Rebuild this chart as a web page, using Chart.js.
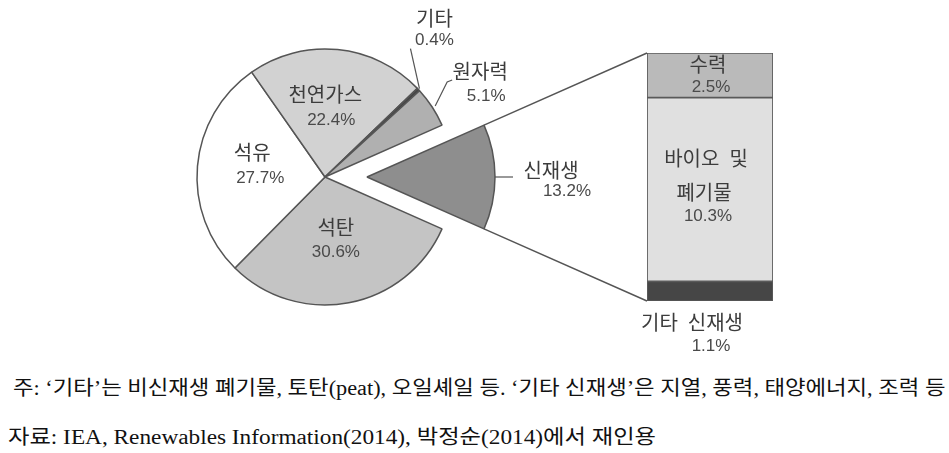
<!DOCTYPE html>
<html lang="ko">
<head>
<meta charset="UTF-8">
<title>1차 에너지 공급 구성</title>
<script src="https://cdn.jsdelivr.net/npm/chart.js"></script>
<style>
    body { margin: 0; background: #fff; }
    #wrap { position: relative; width: 949px; height: 453px; overflow: hidden; }
    #pieChart { position: absolute; left: 0; top: 0; }
    #barChart { position: absolute; left: 600px; top: 40px; }
    .note {
        position: absolute;
        white-space: nowrap;
        font-family: "Liberation Serif", "Noto Sans CJK KR", serif;
        font-size: 20px;
        line-height: 22px;
        color: #111;
        transform-origin: 0 50%;
    }
</style>
</head>
<body>
<div id="wrap">
    <canvas id="pieChart" width="949" height="370"></canvas>
    <canvas id="barChart" width="220" height="330"></canvas>
    <div class="note" id="note1" style="left:13px; top:377px;">주: ‘기타’는 비신재생 폐기물, 토탄(peat), 오일셰일 등. ‘기타 신재생’은 지열, 풍력, 태양에너지, 조력 등</div>
    <div class="note" id="note2" style="left:8px; top:426px;">자료: IEA, Renewables Information(2014), 박정순(2014)에서 재인용</div>
</div>

<script>
// Data
const pieLabels = ['신재생', '석탄', '석유', '천연가스', '기타', '원자력'];
const pieValues = [13.2, 30.6, 27.7, 22.4, 0.4, 5.1];
const renewLabels = ['기타 신재생', '바이오 및 폐기물', '수력'];
const renewValues = [1.1, 10.3, 2.5];

// Styles
const pieColors = ['#8e8e8e', '#c4c4c4', '#ffffff', '#d2d2d2', '#454545', '#b0b0b0'];
const renewColors = ['#464646', '#e0e0e0', '#bababa'];
const EXPLODE = 42;
const LINE = '#555';
const TEXT = '#3c3c3c';
const NUM_TEXT = '#4a4a4a';
const NAME_FONT = '20px "Noto Sans CJK KR", sans-serif';
const NUM_FONT = '17px "Liberation Sans", "Noto Sans CJK KR", sans-serif';
const BAR_LEFT = 600, BAR_TOP = 40;

// label line offsets: [name, value] relative to anchor
const pieLabelLayout = [
    { out: true, lines: [[56, -7], [72, 14]], leader: [[0, 0], [18, 0]] },
    { lines: [[-1, -12], [-1, 12]] },
    { lines: [[-9, -19], [-1, 7]] },
    { lines: [[-6, -19], [0, 7]] },
    { out: true, lines: [[16, -71], [16, -49]], leader: [[1, -1], [-8, -41]] },
    { out: true, lines: [[48, -36], [54, -11]], leader: [[3, -1], [15, -25], [20, -27]] }
];
const renewLabelLayout = [
    { below: true, lines: [[-18, 21], [1, 45]], text: ['기타\u2002신재생'] },
    { lines: [[-4, -31], [-6, 3], [-2, 27]], text: ['바이오\u2002및', '폐기물'] },
    { lines: [[-2, -11], [1, 12]], text: ['수력'] }
];

const pieTotal = pieValues.reduce((a, b) => a + b, 0);
const renewTotal = renewValues.reduce((a, b) => a + b, 0);
const renewSweep = pieValues[0] / pieTotal * 360;

function drawText(ctx, text, x, y, isNum) {
    ctx.font = isNum ? NUM_FONT : NAME_FONT;
    ctx.fillStyle = isNum ? NUM_TEXT : TEXT;
    ctx.textAlign = 'center';
    ctx.textBaseline = 'middle';
    ctx.fillText(text, x, y);
}

// Stacked bar for 신재생 breakdown
const barLabelPlugin = {
    id: 'barLabels',
    afterDatasetsDraw(chart) {
        const ctx = chart.ctx;
        renewLabels.forEach((name, i) => {
            const bar = chart.getDatasetMeta(i).data[0];
            const lay = renewLabelLayout[i];
            const cy = lay.below ? bar.base : (bar.y + bar.base) / 2;
            const texts = lay.text.concat([renewValues[i].toFixed(1) + '%']);
            texts.forEach((t, k) => {
                const [dx, dy] = lay.lines[k];
                drawText(ctx, t, bar.x + dx, cy + dy, k === texts.length - 1);
            });
        });
    }
};

const barChart = new Chart(document.getElementById('barChart'), {
    type: 'bar',
    data: {
        labels: ['신재생'],
        datasets: renewLabels.map((name, i) => ({
            label: name,
            data: [renewValues[i]],
            backgroundColor: renewColors[i],
            borderColor: '#5a5a5a',
            borderWidth: 1.2,
            borderSkipped: false,
            barPercentage: 1,
            categoryPercentage: 1
        }))
    },
    options: {
        responsive: false,
        animation: false,
        layout: { padding: { left: 47, right: 47, top: 13, bottom: 69 } },
        scales: {
            x: { stacked: true, display: false },
            y: { stacked: true, display: false, min: 0, max: renewTotal }
        },
        plugins: { legend: { display: false }, tooltip: { enabled: false } }
    },
    plugins: [barLabelPlugin]
});

// Pie with exploded 신재생 slice
const pieLabelPlugin = {
    id: 'pieLabels',
    afterDatasetsUpdate(chart) {
        const arc = chart.getDatasetMeta(0).data[0];
        const mid = (arc.startAngle + arc.endAngle) / 2;
        arc.x += Math.cos(mid) * EXPLODE;
        arc.y += Math.sin(mid) * EXPLODE;
    },
    afterDatasetsDraw(chart) {
        const ctx = chart.ctx;
        const arcs = chart.getDatasetMeta(0).data;

        // lines from the exploded slice to the bar
        const ex = arcs[0];
        const topBar = barChart.getDatasetMeta(renewValues.length - 1).data[0];
        const botBar = barChart.getDatasetMeta(0).data[0];
        const barX = BAR_LEFT + topBar.x - topBar.width / 2;
        ctx.save();
        ctx.strokeStyle = LINE;
        ctx.lineWidth = 1.5;
        ctx.beginPath();
        ctx.moveTo(ex.x + Math.cos(ex.startAngle) * ex.outerRadius, ex.y + Math.sin(ex.startAngle) * ex.outerRadius);
        ctx.lineTo(barX, BAR_TOP + topBar.y);
        ctx.moveTo(ex.x + Math.cos(ex.endAngle) * ex.outerRadius, ex.y + Math.sin(ex.endAngle) * ex.outerRadius);
        ctx.lineTo(barX, BAR_TOP + botBar.base);
        ctx.stroke();

        arcs.forEach((arc, i) => {
            const lay = pieLabelLayout[i];
            const mid = (arc.startAngle + arc.endAngle) / 2;
            let ax, ay;
            if (lay.out) {
                ax = arc.x + Math.cos(mid) * arc.outerRadius;
                ay = arc.y + Math.sin(mid) * arc.outerRadius;
                ctx.beginPath();
                lay.leader.forEach(([dx, dy], k) => {
                    if (k === 0) ctx.moveTo(ax + dx, ay + dy);
                    else ctx.lineTo(ax + dx, ay + dy);
                });
                ctx.lineWidth = 1.2;
                ctx.stroke();
            } else {
                const p = arc.tooltipPosition();
                ax = p.x;
                ay = p.y;
            }
            drawText(ctx, pieLabels[i], ax + lay.lines[0][0], ay + lay.lines[0][1], false);
            drawText(ctx, pieValues[i].toFixed(1) + '%', ax + lay.lines[1][0], ay + lay.lines[1][1], true);
        });
        ctx.restore();
    }
};

new Chart(document.getElementById('pieChart'), {
    type: 'pie',
    data: {
        labels: pieLabels,
        datasets: [{
            data: pieValues,
            backgroundColor: pieColors,
            borderColor: LINE,
            borderWidth: 1.5
        }]
    },
    options: {
        responsive: false,
        animation: false,
        rotation: 90 - renewSweep / 2,
        radius: 128,
        layout: { padding: { left: 197, right: 496, top: 49, bottom: 65 } },
        plugins: { legend: { display: false }, tooltip: { enabled: false } }
    },
    plugins: [pieLabelPlugin]
});

// stretch footnotes to the original line widths
function fitLine(id, width) {
    const el = document.getElementById(id);
    const w = el.getBoundingClientRect().width;
    el.style.transform = 'scaleX(' + (width / w).toFixed(3) + ')';
}
fitLine('note1', 932);
fitLine('note2', 648);
</script>
</body>
</html>
